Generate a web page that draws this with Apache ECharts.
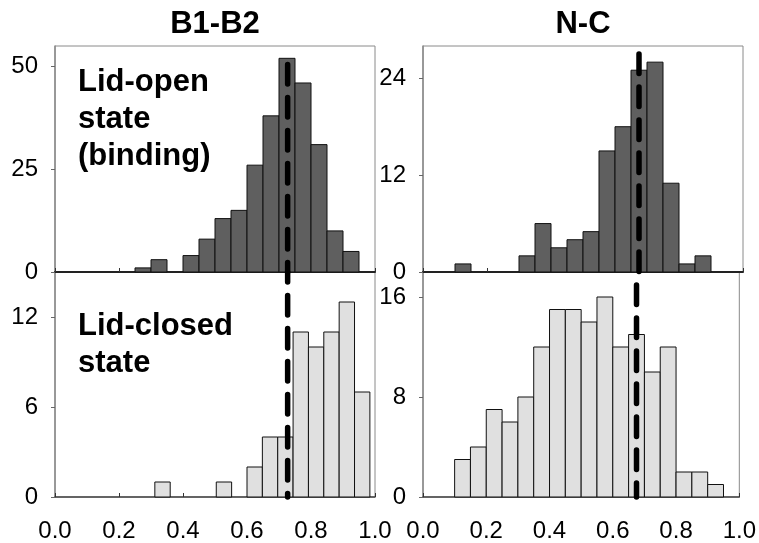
<!DOCTYPE html>
<html>
<head>
<meta charset="utf-8">
<script src="https://cdn.jsdelivr.net/npm/echarts@6/dist/echarts.min.js"></script>
<style>
html,body{margin:0;padding:0;background:#fff;}
#chart{width:759px;height:543px;}
</style>
</head>
<body>
<div id="chart"></div>
<script>
// ---- data ----
const panelTitles = ['B1-B2', 'N-C'];
const stateLabels = ['Lid-open\nstate\n(binding)', 'Lid-closed\nstate'];
const xTicks = [0, 0.2, 0.4, 0.6, 0.8, 1.0];

// B1-B2, lid-open (bins of width 0.05)
const tlBinStarts = [0.25, 0.30, 0.40, 0.45, 0.50, 0.55, 0.60, 0.65, 0.70, 0.75, 0.80, 0.85, 0.90];
const tlCounts    = [1, 3, 4, 8, 13, 15, 26, 38, 52, 46, 31, 10, 5];
const tlBinWidth = 0.05;
// B1-B2, lid-closed (bins of width 0.048)
const blBinStarts = [0.312, 0.504, 0.600, 0.648, 0.696, 0.744, 0.792, 0.840, 0.888, 0.936];
const blCounts    = [1, 1, 2, 4, 4, 11, 10, 11, 13, 7];
const blBinWidth = 0.048;
// N-C, lid-open
const trBinStarts = [0.10, 0.30, 0.35, 0.40, 0.45, 0.50, 0.55, 0.60, 0.65, 0.70, 0.75, 0.80, 0.85];
const trCounts    = [1, 2, 6, 3, 4, 5, 15, 18, 25, 26, 11, 1, 2];
const trBinWidth = 0.05;
// N-C, lid-closed
const brBinStarts = [0.10, 0.15, 0.20, 0.25, 0.30, 0.35, 0.40, 0.45, 0.50, 0.55, 0.60, 0.65, 0.70, 0.75, 0.80, 0.85, 0.90];
const brCounts    = [3, 4, 7, 6, 8, 12, 15, 15, 14, 16, 12, 13, 10, 12, 2, 2, 1];
const brBinWidth = 0.05;

// y axis ranges and ticks
const yMaxTL = 55, yTicksTL = [0, 25, 50];
const yMaxBL = 15, yTicksBL = [0, 6, 12];
const yMaxTR = 28, yTicksTR = [0, 12, 24];
const yMaxBR = 18, yTicksBR = [0, 8, 16];

// dashed reference lines
const refXLeft = 0.727, refTopLeft = 50.5;
const refXRight = 0.675, refTopRight = 27;

// ---- chart ----
const FONT = 'Liberation Sans, Arial, Helvetica, sans-serif';
const chart = echarts.init(document.getElementById('chart'), null, {renderer: 'canvas'});

function makeData(starts, counts, w) {
  return starts.map((s, i) => [s, +(s + w).toFixed(4), counts[i]]);
}
function barRenderer(fill) {
  return function (params, api) {
    const p0 = api.coord([api.value(0), api.value(2)]);
    const p1 = api.coord([api.value(1), 0]);
    return {
      type: 'rect',
      shape: {x: p0[0], y: p0[1], width: p1[0] - p0[0], height: p1[1] - p0[1]},
      style: {fill: fill, stroke: '#111', lineWidth: 1}
    };
  };
}

const grids = [
  {left: 55, top: 46, width: 320, height: 226},
  {left: 55, top: 272, width: 320, height: 227},
  {left: 423, top: 46, width: 320, height: 226},
  {left: 423, top: 272, width: 320, height: 227}
].map(g => Object.assign(g, {show: true, borderColor: '#8a8a8a', borderWidth: 1, backgroundColor: 'transparent'}));

function xAxis(i, showLabel, lineColor, lineWidth) {
  return {
    type: 'value', gridIndex: i, min: 0, max: 1, interval: 0.2,
    axisLine: {show: true, onZero: false, lineStyle: {color: lineColor, width: lineWidth}},
    axisTick: {show: true, inside: true, length: 4, lineStyle: {color: '#333'}},
    splitLine: {show: false},
    axisLabel: {
      show: showLabel, margin: 22, color: '#000', fontSize: 24, fontFamily: FONT,
      customValues: xTicks,
      formatter: v => v.toFixed(1)
    }
  };
}
function yAxis(i, max, ticks) {
  return {
    type: 'value', gridIndex: i, min: 0, max: max,
    axisLine: {show: true, onZero: false, lineStyle: {color: '#8a8a8a', width: 1.5}},
    axisTick: {show: true, inside: false, length: 4, lineStyle: {color: '#666'}, customValues: ticks},
    splitLine: {show: false},
    axisLabel: {margin: 17, color: '#000', fontSize: 24, fontFamily: FONT, customValues: ticks}
  };
}

const dashPeriod = [19.5, 13.5];
function dashSeries(id, axisIdx, x, top) {
  return {
    id: id, type: 'line', xAxisIndex: axisIdx, yAxisIndex: axisIdx,
    data: [[x, top], [x, 0]], showSymbol: false, symbol: 'none', clip: false, z: 10,
    silent: true, animation: false,
    lineStyle: {color: '#000', width: 5.5, type: dashPeriod, cap: 'round', dashOffset: 0}
  };
}

const option = {
  backgroundColor: '#fff',
  animation: false,
  grid: grids,
  xAxis: [
    xAxis(0, false, '#222', 2),
    xAxis(1, true, '#444', 1.5),
    xAxis(2, false, '#222', 2),
    xAxis(3, true, '#444', 1.5)
  ],
  yAxis: [
    yAxis(0, yMaxTL, yTicksTL),
    yAxis(1, yMaxBL, yTicksBL),
    yAxis(2, yMaxTR, yTicksTR),
    yAxis(3, yMaxBR, yTicksBR)
  ],
  series: [
    {type: 'custom', xAxisIndex: 0, yAxisIndex: 0, renderItem: barRenderer('#5f5f5f'),
      data: makeData(tlBinStarts, tlCounts, tlBinWidth), encode: {x: [0, 1], y: 2}},
    {type: 'custom', xAxisIndex: 1, yAxisIndex: 1, renderItem: barRenderer('#e0e0e0'),
      data: makeData(blBinStarts, blCounts, blBinWidth), encode: {x: [0, 1], y: 2}},
    {type: 'custom', xAxisIndex: 2, yAxisIndex: 2, renderItem: barRenderer('#5f5f5f'),
      data: makeData(trBinStarts, trCounts, trBinWidth), encode: {x: [0, 1], y: 2}},
    {type: 'custom', xAxisIndex: 3, yAxisIndex: 3, renderItem: barRenderer('#e0e0e0'),
      data: makeData(brBinStarts, brCounts, brBinWidth), encode: {x: [0, 1], y: 2}},
    dashSeries('dashTL', 0, refXLeft, refTopLeft),
    dashSeries('dashBL', 1, refXLeft, yMaxBL),
    dashSeries('dashTR', 2, refXRight, refTopRight),
    dashSeries('dashBR', 3, refXRight, yMaxBR)
  ],
  graphic: [
    {type: 'text', x: 215, y: 24, z: 20,
      style: {text: panelTitles[0], font: 'bold 31px ' + FONT, fill: '#000', align: 'center', verticalAlign: 'middle'}},
    {type: 'text', x: 583, y: 24, z: 20,
      style: {text: panelTitles[1], font: 'bold 31px ' + FONT, fill: '#000', align: 'center', verticalAlign: 'middle'}},
    {type: 'text', x: 78, y: 63.5, z: 20,
      style: {text: stateLabels[0], font: 'bold 31px ' + FONT, fill: '#000', lineHeight: 37, align: 'left', verticalAlign: 'top'}},
    {type: 'text', x: 78, y: 307.5, z: 20,
      style: {text: stateLabels[1], font: 'bold 31px ' + FONT, fill: '#000', lineHeight: 37, align: 'left', verticalAlign: 'top'}}
  ]
};
chart.setOption(option);

// keep dash pattern continuous across the panel boundary
const period = dashPeriod[0] + dashPeriod[1];
function offsetFor(idx, x, top) {
  const a = chart.convertToPixel({xAxisIndex: idx, yAxisIndex: idx}, [x, top]);
  const b = chart.convertToPixel({xAxisIndex: idx, yAxisIndex: idx}, [x, 0]);
  return (b[1] - a[1]) % period;
}
chart.setOption({series: [
  {id: 'dashBL', lineStyle: {dashOffset: offsetFor(0, refXLeft, refTopLeft)}},
  {id: 'dashBR', lineStyle: {dashOffset: offsetFor(2, refXRight, refTopRight)}}
]});
</script>
</body>
</html>
